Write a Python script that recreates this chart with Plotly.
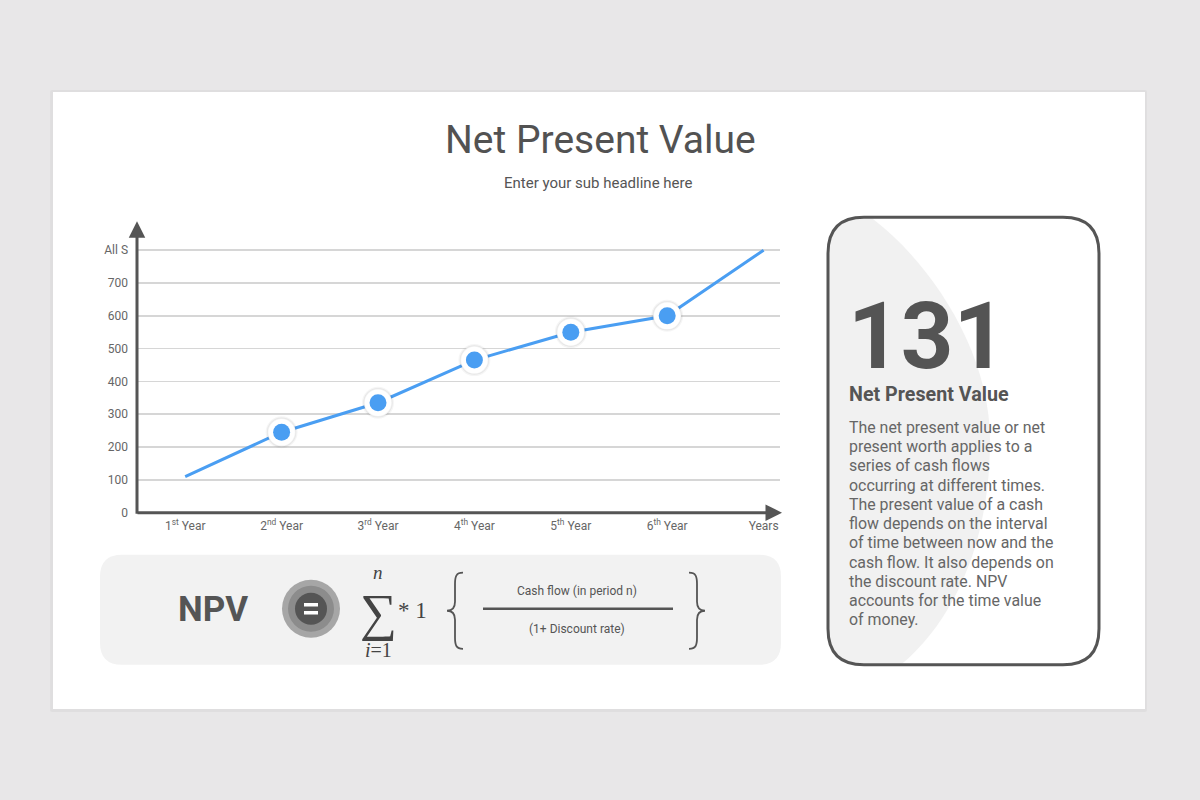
import plotly.graph_objects as go

# ---------------- data ----------------
categories = ["1<sup>st</sup> Year", "2<sup>nd</sup> Year", "3<sup>rd</sup> Year",
              "4<sup>th</sup> Year", "5<sup>th</sup> Year", "6<sup>th</sup> Year", "Years"]
values = [110, 245, 335, 465, 550, 600, 800]
marker_flags = [False, True, True, True, True, True, False]
y_tickvals = [0, 100, 200, 300, 400, 500, 600, 700, 800]
y_ticktext = ["0", "100", "200", "300", "400", "500", "600", "700", "All S"]

title_text = "Net Present Value"
subtitle_text = "Enter your sub headline here"
big_number = "131"
panel_heading = "Net Present Value"
panel_lines = [
    "The net present value or net",
    "present worth applies to a",
    "series of cash flows",
    "occurring at different times.",
    "The present value of a cash",
    "flow depends on the interval",
    "of time between now and the",
    "cash flow. It also depends on",
    "the discount rate. NPV",
    "accounts for the time value",
    "of money.",
]
frac_top = "Cash flow (in period n)"
frac_bottom = "(1+ Discount rate)"

W, H = 1200, 800          # design space
FIG_H = 808               # page height (the viewport is captured slightly taller)
SY = FIG_H / H
FONT = "Roboto"
DARK = "#555555"
BG = "#E8E7E8"


def px(x):
    return x / W


def py(y):
    return 1 - y / H


def path(cmds):
    out = []
    for c, pts in cmds:
        s = c
        if pts:
            coords = []
            for i in range(0, len(pts), 2):
                coords.append(f"{px(pts[i]):.5f},{py(pts[i+1]):.5f}")
            s += " " + " ".join(coords)
        out.append(s)
    return " ".join(out)


def rrect(x0, y0, x1, y1, r):
    return path([
        ("M", [x0 + r, y0]), ("L", [x1 - r, y0]), ("Q", [x1, y0, x1, y0 + r]),
        ("L", [x1, y1 - r]), ("Q", [x1, y1, x1 - r, y1]), ("L", [x0 + r, y1]),
        ("Q", [x0, y1, x0, y1 - r]), ("L", [x0, y0 + r]), ("Q", [x0, y0, x0 + r, y0]),
        ("Z", []),
    ])


fig = go.Figure()

fig.add_trace(go.Scatter(
    x=categories, y=values, mode="lines",
    line=dict(color="#4A9EF2", width=3), hoverinfo="skip", showlegend=False))

mx = [c for c, f in zip(categories, marker_flags) if f]
my = [v for v, f in zip(values, marker_flags) if f]
fig.add_trace(go.Scatter(
    x=mx, y=my, mode="markers",
    marker=dict(size=32, color="rgba(0,0,0,0.04)", line=dict(width=0)),
    hoverinfo="skip", showlegend=False))
fig.add_trace(go.Scatter(
    x=mx, y=my, mode="markers",
    marker=dict(size=28, color="#FFFFFF", line=dict(color="rgba(0,0,0,0.06)", width=1.5)),
    hoverinfo="skip", showlegend=False))
fig.add_trace(go.Scatter(
    x=mx, y=my, mode="markers",
    marker=dict(size=17, color="#4A9EF2", line=dict(width=0)),
    hoverinfo="skip", showlegend=False))

shapes = []
shapes.append(dict(type="path", xref="paper", yref="paper", layer="below",
                   path=rrect(50, 90, 1147, 711, 2), fillcolor="rgba(0,0,0,0.035)", line=dict(width=0)))
shapes.append(dict(type="rect", xref="paper", yref="paper", layer="below",
                   x0=px(53), x1=px(1145), y0=py(708), y1=py(92),
                   fillcolor="#FFFFFF", line=dict(width=0)))

shapes.append(dict(type="path", xref="paper", yref="paper", layer="below",
                   path=rrect(100, 554, 781, 664, 22), fillcolor="#F2F2F2", line=dict(width=0)))

shapes.append(dict(type="path", xref="paper", yref="paper", layer="below",
                   path=path([
                       ("M", [872, 218]),
                       ("C", [930, 262, 990, 350, 990, 440]),
                       ("C", [990, 540, 955, 618, 902, 663]),
                       ("L", [864, 663]),
                       ("Q", [829, 663, 829, 628]),
                       ("L", [829, 253]),
                       ("Q", [829, 218, 864, 218]),
                       ("Z", []),
                   ]), fillcolor="#F1F1F1", line=dict(width=0)))
shapes.append(dict(type="path", xref="paper", yref="paper", layer="below",
                   path=rrect(828, 217, 1099, 664, 36), fillcolor="rgba(0,0,0,0)",
                   line=dict(color=DARK, width=3)))

for r, col in [(29, "#A6A6A6"), (23, "#8C8C8C"), (16, "#555555")]:
    shapes.append(dict(type="circle", xref="paper", yref="paper", layer="below",
                       x0=px(311 - r), x1=px(311 + r), y0=py(608 + r), y1=py(608 - r),
                       fillcolor=col, line=dict(width=0)))
for yy in (604, 612):
    shapes.append(dict(type="line", xref="paper", yref="paper",
                       x0=px(304), x1=px(318), y0=py(yy), y1=py(yy),
                       line=dict(color="#FFFFFF", width=3.5)))

shapes.append(dict(type="line", xref="paper", yref="paper",
                   x0=px(483), x1=px(673), y0=py(608), y1=py(608),
                   line=dict(color=DARK, width=2.5)))
lb = path([("M", [463, 572]), ("C", [456, 572, 455, 576, 455, 583]), ("L", [455, 601]),
           ("C", [455, 607, 452, 610, 447, 610]), ("C", [452, 610, 455, 613, 455, 619]),
           ("L", [455, 637]), ("C", [455, 644, 456, 648, 463, 648])])
rb = path([("M", [689, 572]), ("C", [696, 572, 697, 576, 697, 583]), ("L", [697, 601]),
           ("C", [697, 607, 700, 610, 705, 610]), ("C", [700, 610, 697, 613, 697, 619]),
           ("L", [697, 637]), ("C", [697, 644, 696, 648, 689, 648])])
for p in (lb, rb):
    shapes.append(dict(type="path", xref="paper", yref="paper", path=p,
                       fillcolor="rgba(0,0,0,0)", line=dict(color=DARK, width=1.8)))

annotations = []
annotations.append(dict(xref="paper", yref="paper", x=px(137), y=py(221), ax=0, ay=(512 - 221) * SY,
                        axref="pixel", ayref="pixel", text="", showarrow=True,
                        arrowhead=2, arrowsize=1.1, arrowwidth=3, arrowcolor=DARK))
annotations.append(dict(xref="paper", yref="paper", x=px(782), y=py(512), ax=-646, ay=0,
                        text="", showarrow=True,
                        arrowhead=2, arrowsize=1.1, arrowwidth=3, arrowcolor=DARK))


def txt(x, y, s, size, color=DARK, weight=400, xanchor="center", family=FONT, align="center"):
    annotations.append(dict(xref="paper", yref="paper", x=px(x), y=py(y), text=s,
                            showarrow=False, xanchor=xanchor, yanchor="middle", align=align,
                            font=dict(family=family, size=size, color=color, weight=weight)))


txt(600, 140, title_text, 39, color="#525252")
txt(598, 183, subtitle_text, 15, color="#555555")

txt(213, 609, "NPV", 35, weight=700)
SERIF = "Liberation Serif"
txt(378, 612, "∑", 52, family=SERIF, color="#444444")
txt(378, 572, "<i>n</i>", 19, family=SERIF, color="#444444")
txt(378, 649, "<i>i</i>=1", 20, family=SERIF, color="#444444")
txt(412, 610, "* 1", 23, family=SERIF, color="#444444")
txt(577, 590, frac_top, 12)
txt(577, 628, frac_bottom, 12)

txt(846, 336, big_number, 92, weight=700, xanchor="left", color="#545454")
txt(847, 394, panel_heading, 19.7, weight=700, xanchor="left")
for i, line in enumerate(panel_lines):
    txt(847, 427 + i * 19.2, line, 15.9, color="#666666", xanchor="left", align="left")

fig.update_layout(
    width=W, height=FIG_H, autosize=False,
    margin=dict(l=0, r=0, t=0, b=0),
    paper_bgcolor=BG, plot_bgcolor="rgba(0,0,0,0)",
    font=dict(family=FONT, color="#666666"),
    shapes=shapes, annotations=annotations, showlegend=False,
    xaxis=dict(domain=[px(137), px(780)], type="category", range=[-0.5, 6.17],
               showgrid=False, zeroline=False, showline=False, ticks="",
               ticklabelstandoff=4,
               tickfont=dict(size=12, color="#666666"), fixedrange=True),
    yaxis=dict(domain=[py(512), py(222)], range=[0, 885],
               tickvals=y_tickvals, ticktext=y_ticktext,
               showgrid=True, gridcolor="#D6D6D6", gridwidth=1.5,
               zeroline=False, showline=False, ticks="",
               ticklabelstandoff=8,
               tickfont=dict(size=12, color="#666666"), fixedrange=True),
)

fig.write_html(
    "out.html",
    config={"displayModeBar": False, "staticPlot": True},
    post_script=("document.body.style.margin='0';"
                 "document.body.style.background='" + BG + "';"
                 "document.documentElement.style.background='" + BG + "';"),
)
